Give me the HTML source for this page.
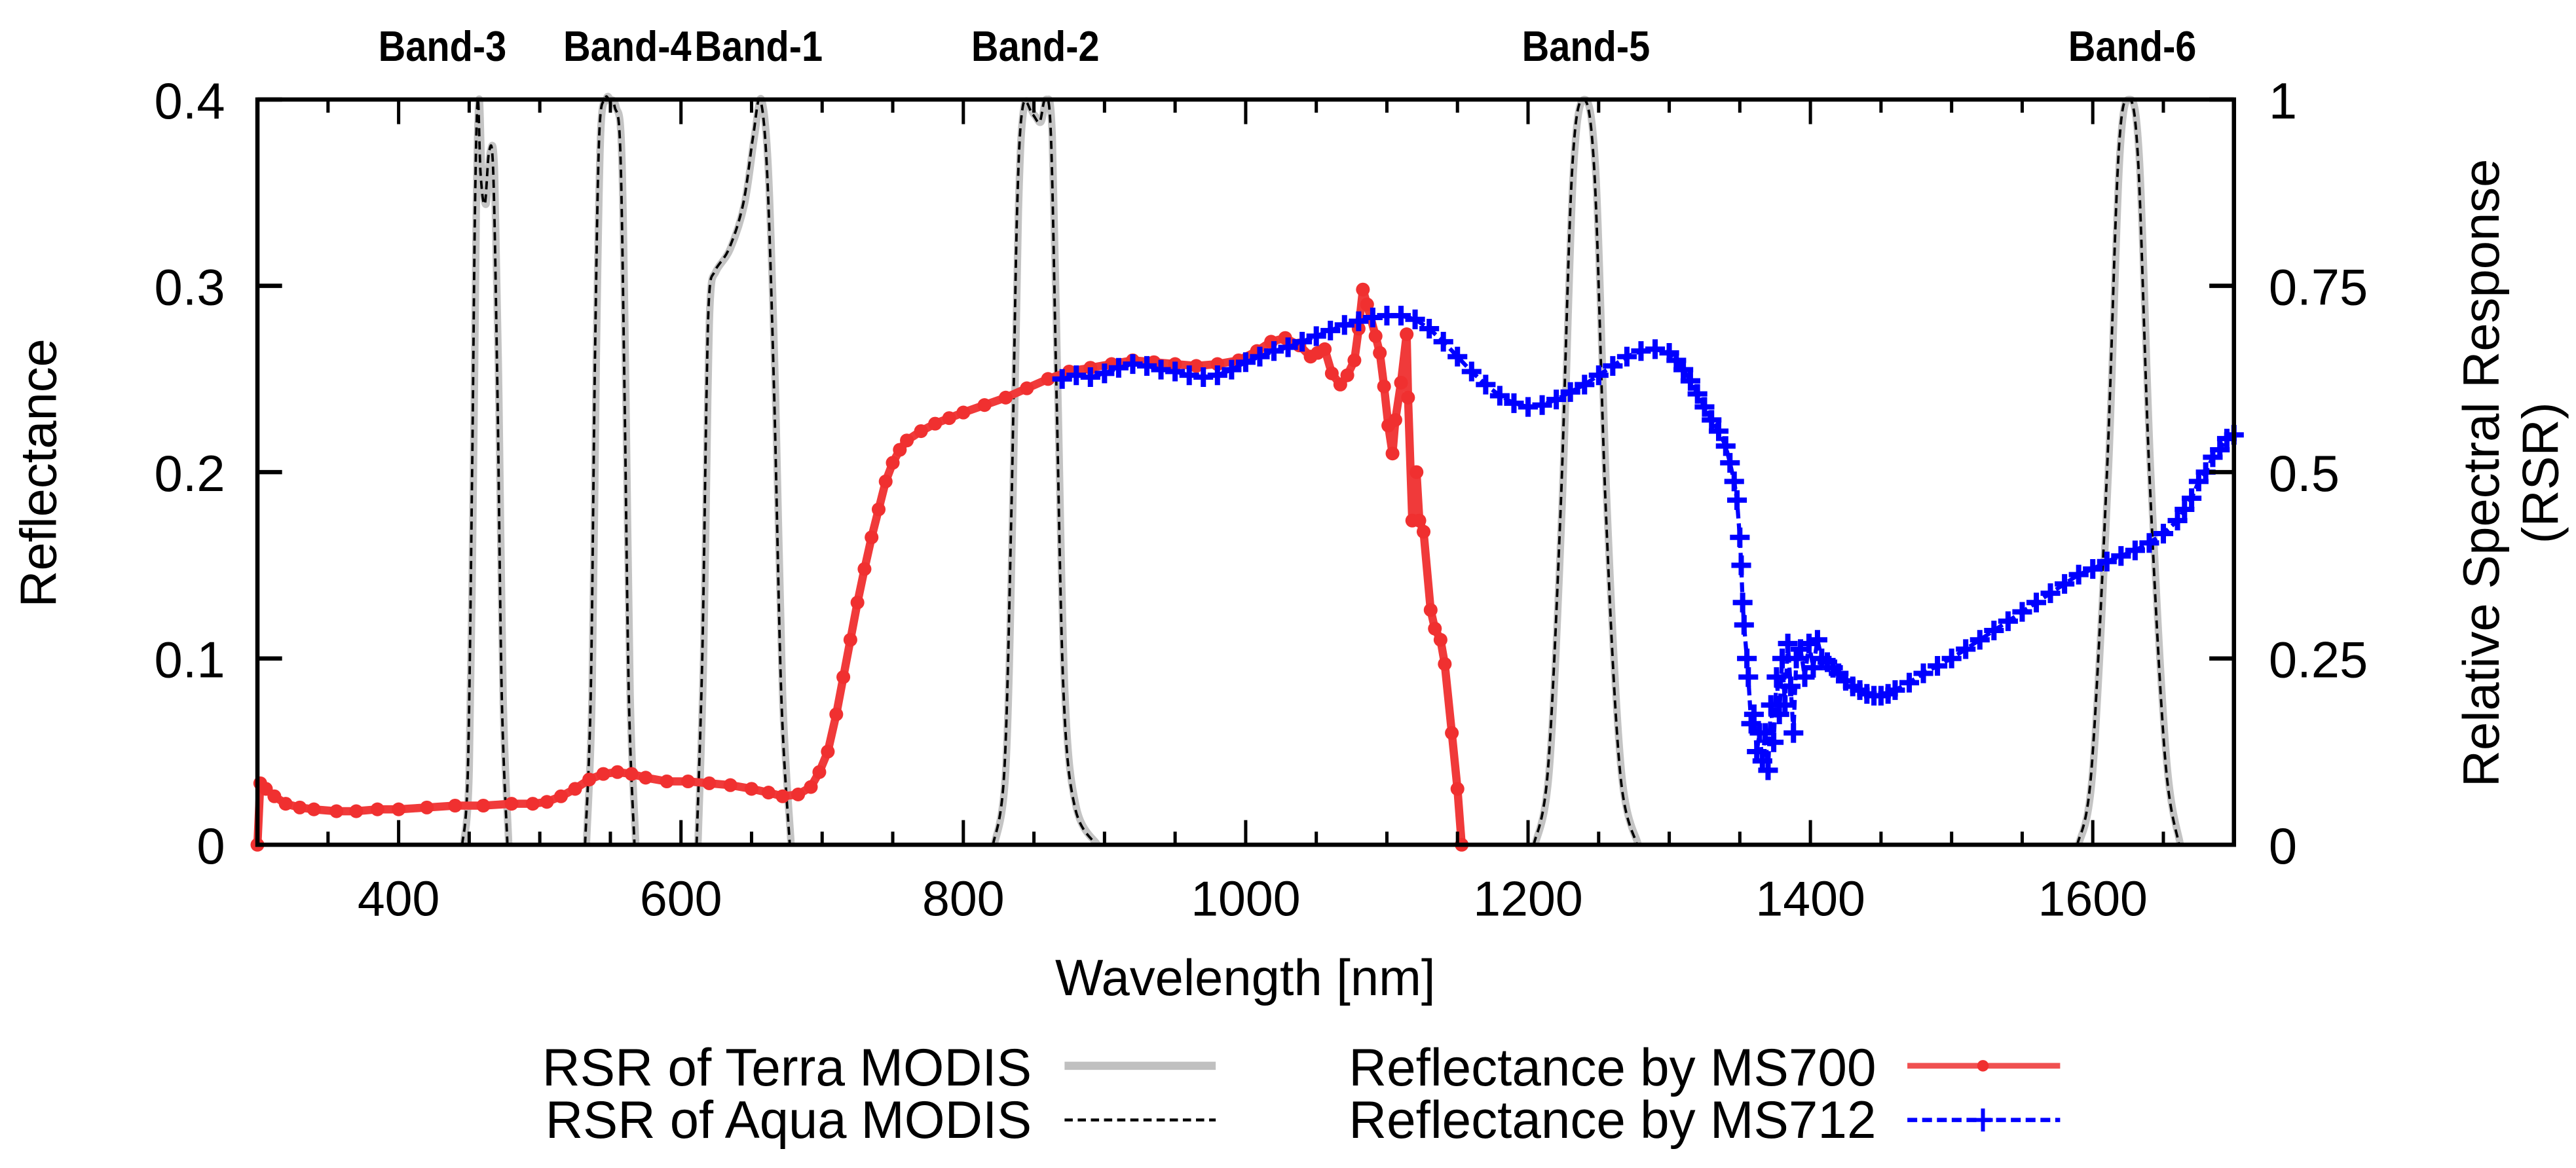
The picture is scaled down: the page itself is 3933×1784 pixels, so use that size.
<!DOCTYPE html>
<html><head><meta charset="utf-8"><style>
html,body{margin:0;padding:0;background:#fff;}
svg{display:block;}
text{font-family:"Liberation Sans",Arial,sans-serif;fill:#000;}
</style></head><body>
<svg id="chart" width="3933" height="1784" viewBox="0 0 1568 711.24" preserveAspectRatio="none" xmlns="http://www.w3.org/2000/svg">
<g id="rsr"></g>
<g id="series"></g>
<g id="axes"></g>
<g id="labels">
<text transform="translate(34,288) rotate(-90)" text-anchor="middle" font-size="31">Reflectance</text>
<text transform="translate(1521,288) rotate(-90)" text-anchor="middle" font-size="31">Relative Spectral Response</text>
<text transform="translate(1557,288) rotate(-90)" text-anchor="middle" font-size="31">(RSR)</text>
<text x="758" y="606" text-anchor="middle" font-size="31">Wavelength [nm]</text>
</g>
<g id="legend">
<text x="628" y="661" text-anchor="end" font-size="32" textLength="298" lengthAdjust="spacingAndGlyphs">RSR of Terra MODIS</text>
<line x1="648" y1="649" x2="740" y2="649" stroke="#c0c0c0" stroke-width="5"/>
<text x="628" y="693" text-anchor="end" font-size="32" textLength="296" lengthAdjust="spacingAndGlyphs">RSR of Aqua MODIS</text>
<line x1="648" y1="682" x2="740" y2="682" stroke="#000" stroke-width="1.8" stroke-dasharray="5,3"/>
<text x="1142" y="661" text-anchor="end" font-size="32" textLength="321" lengthAdjust="spacingAndGlyphs">Reflectance by MS700</text>
<line x1="1161" y1="649" x2="1254" y2="649" stroke="#f05050" stroke-width="3.5"/>
<circle cx="1207" cy="649" r="3.5" fill="#f03030"/>
<text x="1142" y="693" text-anchor="end" font-size="32" textLength="321" lengthAdjust="spacingAndGlyphs">Reflectance by MS712</text>
<line x1="1161" y1="682" x2="1254" y2="682" stroke="#0000ff" stroke-width="2.6" stroke-dasharray="6,3"/>
<path d="M1207,675V689M1201,682H1213" stroke="#0000ff" stroke-width="2.4"/>
</g>
</svg>
<script>
// ---- data ----
const reflWlMS700 = [300,302,306,312,320,330,340,356,370,385,400,420,440,460,480,495,505,515,525,535,545,555,565,575,590,605,620,635,650,662,672,683,692,698,704,710,715,720,725,730,735,740,745,750,755,760,770,780,790,800,815,830,845,860,875,890,905,920,935,950,965,980,995,1008,1018,1028,1038,1046,1051,1056,1061,1067,1072,1077,1080,1083,1086,1092,1095,1098,1101,1104,1106,1110,1114,1115,1118,1121,1123,1126,1131,1134,1138,1141,1146,1150,1153];
const reflValMS700 = [0.0,0.033,0.03,0.026,0.022,0.02,0.019,0.018,0.018,0.019,0.019,0.02,0.021,0.021,0.022,0.022,0.023,0.026,0.03,0.035,0.038,0.039,0.038,0.036,0.034,0.034,0.033,0.032,0.03,0.028,0.026,0.027,0.031,0.039,0.05,0.07,0.09,0.11,0.13,0.148,0.165,0.18,0.195,0.205,0.212,0.217,0.222,0.226,0.229,0.232,0.236,0.24,0.245,0.25,0.254,0.256,0.258,0.26,0.259,0.258,0.257,0.258,0.26,0.265,0.27,0.272,0.268,0.262,0.264,0.266,0.253,0.247,0.252,0.26,0.277,0.298,0.29,0.273,0.264,0.246,0.225,0.21,0.228,0.248,0.274,0.24,0.174,0.2,0.174,0.168,0.126,0.116,0.11,0.097,0.06,0.03,0.0];
const reflWlMS712 = [870,880,890,900,910,920,930,940,950,960,970,980,990,1000,1010,1020,1030,1040,1050,1060,1070,1080,1090,1100,1110,1120,1130,1140,1150,1160,1170,1180,1190,1200,1210,1220,1230,1240,1250,1260,1270,1280,1290,1300,1305,1310,1315,1320,1325,1330,1335,1340,1343,1346,1348,1350,1351,1352,1353,1355,1356,1358,1360,1362,1364,1366,1368,1370,1372,1374,1376,1378,1380,1382,1384,1386,1388,1390,1393,1396,1399,1402,1405,1408,1412,1416,1420,1425,1430,1435,1440,1445,1450,1455,1460,1470,1480,1490,1500,1510,1520,1530,1540,1550,1560,1570,1580,1590,1600,1610,1620,1630,1640,1650,1660,1665,1670,1675,1680,1685,1690,1695,1700];
const reflValMS712 = [0.25,0.252,0.251,0.253,0.256,0.258,0.257,0.255,0.254,0.252,0.251,0.252,0.255,0.259,0.262,0.265,0.267,0.27,0.273,0.276,0.279,0.281,0.283,0.284,0.284,0.282,0.277,0.27,0.262,0.254,0.247,0.241,0.237,0.235,0.236,0.239,0.243,0.247,0.252,0.257,0.262,0.265,0.266,0.264,0.26,0.255,0.249,0.242,0.235,0.228,0.222,0.214,0.205,0.195,0.185,0.165,0.15,0.13,0.118,0.1,0.09,0.065,0.07,0.05,0.06,0.045,0.06,0.04,0.075,0.055,0.09,0.07,0.1,0.075,0.108,0.085,0.06,0.1,0.105,0.09,0.108,0.095,0.11,0.1,0.098,0.095,0.092,0.088,0.085,0.083,0.081,0.08,0.08,0.081,0.083,0.087,0.092,0.096,0.1,0.105,0.11,0.115,0.12,0.125,0.13,0.135,0.14,0.145,0.148,0.152,0.155,0.158,0.162,0.167,0.174,0.18,0.186,0.195,0.2,0.208,0.212,0.218,0.22];

const bandNames = ["Band-3","Band-4","Band-1","Band-2","Band-5","Band-6"];
const bandLabelWl = [431,562,655,851,1241,1628];
const band3Wl = [446,450,453,455,457,459,462,465,468,471,474,478];
const band3Rsr = [0,0.1,0.5,0.85,1.0,0.9,0.86,0.93,0.9,0.6,0.2,0];
const band4Wl = [533,537,540,543,547,550,554,558,561,564,568];
const band4Rsr = [0,0.2,0.65,0.95,1.0,1.0,0.99,0.93,0.6,0.2,0];
const band1Wl = [612,616,619,621,625,635,645,652,657,662,667,672,678];
const band1Rsr = [0,0.25,0.6,0.74,0.77,0.8,0.86,0.95,1.0,0.9,0.6,0.2,0];
const band2Wl = [822,830,835,839,843,850,855,859,863,867,872,880,895];
const band2Rsr = [0,0.1,0.45,0.85,0.99,0.98,0.97,1.0,0.95,0.6,0.2,0.05,0];
const band5Wl = [1205,1215,1224,1232,1240,1248,1256,1266,1278];
const band5Rsr = [0,0.1,0.45,0.9,1.0,0.9,0.45,0.1,0];
const band6Wl = [1590,1600,1611,1619,1626,1633,1641,1652,1662];
const band6Rsr = [0,0.1,0.5,0.92,1.0,0.92,0.5,0.12,0];

const xTickVals = [400,600,800,1000,1200,1400,1600];
const yTickVals = [0,0.1,0.2,0.3,0.4];
const yTickLabels = ["0","0.1","0.2","0.3","0.4"];
const y2TickVals = [0,0.25,0.5,0.75,1];
const y2TickLabels = ["0","0.25","0.5","0.75","1"];

// ---- scales ----
const PL=156.7, PR=1359.8, PT=60.6, PB=514.4;
const X = nm => PL + (nm-300)/1400*(PR-PL);
const Y = v => PB - v/0.4*(PB-PT);
const Y2 = r => PB - r*(PB-PT);
const NS="http://www.w3.org/2000/svg";
function mk(tag, parent){ const e=document.createElementNS(NS,tag); parent.appendChild(e); return e; }

function smoothPath(pts){
  let d="M"+pts[0][0].toFixed(2)+","+pts[0][1].toFixed(2);
  for(let i=0;i<pts.length-1;i++){
    const p0=pts[Math.max(0,i-1)],p1=pts[i],p2=pts[i+1],p3=pts[Math.min(pts.length-1,i+2)];
    const c1=[p1[0]+(p2[0]-p0[0])/6,p1[1]+(p2[1]-p0[1])/6];
    const c2=[p2[0]-(p3[0]-p1[0])/6,p2[1]-(p3[1]-p1[1])/6];
    d+=" C"+c1[0].toFixed(2)+","+c1[1].toFixed(2)+" "+c2[0].toFixed(2)+","+c2[1].toFixed(2)+" "+p2[0].toFixed(2)+","+p2[1].toFixed(2);
  }
  return d;
}

// ---- RSR curves ----
const rsrG=document.getElementById("rsr");
const bandsWl=[band3Wl,band4Wl,band1Wl,band2Wl,band5Wl,band6Wl];
const bandsRsr=[band3Rsr,band4Rsr,band1Rsr,band2Rsr,band5Rsr,band6Rsr];
for(let b=0;b<bandsWl.length;b++){
  const pts=bandsWl[b].map((w,i)=>[X(w),Y2(bandsRsr[b][i])]);
  const t=mk("path",rsrG);
  
  
  t.setAttribute("d",smoothPath(pts));
  t.setAttribute("fill","none");t.setAttribute("stroke","#c4c4c4");t.setAttribute("stroke-width","4.5");
  const a=mk("path",rsrG);
  
  
  a.setAttribute("d",smoothPath(pts.map(p=>[p[0]-0.8,p[1]])));
  a.setAttribute("fill","none");a.setAttribute("stroke","#000");a.setAttribute("stroke-width","1.5");a.setAttribute("stroke-dasharray","5,3");
}

// ---- reflectance series ----
const sG=document.getElementById("series");
const redLine=mk("polyline",sG);


redLine.setAttribute("points",reflWlMS700.map((w,i)=>X(w).toFixed(2)+","+Y(reflValMS700[i]).toFixed(2)).join(" "));
redLine.setAttribute("fill","none");redLine.setAttribute("stroke","#f03a3a");redLine.setAttribute("stroke-width","5");redLine.setAttribute("stroke-linejoin","round");
for(let i=0;i<reflWlMS700.length;i++){
  const c=mk("circle",sG);
  
  
  c.setAttribute("cx",X(reflWlMS700[i]).toFixed(2));c.setAttribute("cy",Y(reflValMS700[i]).toFixed(2));
  c.setAttribute("r","4.2");c.setAttribute("fill","#f03030");
}
const blueLine=mk("polyline",sG);


blueLine.setAttribute("points",reflWlMS712.map((w,i)=>X(w).toFixed(2)+","+Y(reflValMS712[i]).toFixed(2)).join(" "));
blueLine.setAttribute("fill","none");blueLine.setAttribute("stroke","#0000ff");blueLine.setAttribute("stroke-width","2.5");blueLine.setAttribute("stroke-dasharray","6,3");
for(let i=0;i<reflWlMS712.length;i++){
  const x=X(reflWlMS712[i]),y=Y(reflValMS712[i]);
  const p=mk("path",sG);
  
  
  p.setAttribute("d","M"+(x-6).toFixed(2)+","+y.toFixed(2)+"H"+(x+6).toFixed(2)+"M"+x.toFixed(2)+","+(y-6).toFixed(2)+"V"+(y+6).toFixed(2));
  p.setAttribute("stroke","#0000ff");p.setAttribute("stroke-width","3.2");
}

// ---- axes ----
const aG=document.getElementById("axes");
const frame=mk("rect",aG);


frame.setAttribute("x",PL);frame.setAttribute("y",PT);frame.setAttribute("width",PR-PL);frame.setAttribute("height",PB-PT);
frame.setAttribute("fill","none");frame.setAttribute("stroke","#000");frame.setAttribute("stroke-width","2.6");
for(let nm=350;nm<1700;nm+=50){
  const major=(nm%200===0);
  const len=major?15:8;
  const tk=mk("path",aG);
  
  
  tk.setAttribute("d","M"+X(nm).toFixed(2)+","+PB+"v"+(-len)+"M"+X(nm).toFixed(2)+","+PT+"v"+len);
  tk.setAttribute("stroke","#000");tk.setAttribute("stroke-width","2");
}
for(let i=0;i<xTickVals.length;i++){
  const t=mk("text",aG);
  
  
  t.setAttribute("x",X(xTickVals[i]).toFixed(2));t.setAttribute("y","557.5");
  t.setAttribute("text-anchor","middle");t.setAttribute("font-size","30");
  t.textContent=String(xTickVals[i]);
}
for(let i=0;i<yTickVals.length;i++){
  const y=Y(yTickVals[i]);
  const tk=mk("path",aG);
  
  
  tk.setAttribute("d","M"+PL+","+y.toFixed(2)+"h15");
  tk.setAttribute("stroke","#000");tk.setAttribute("stroke-width","2.6");
  const t=mk("text",aG);
  
  
  t.setAttribute("x","137");t.setAttribute("y",(y+11.5).toFixed(2));
  t.setAttribute("text-anchor","end");t.setAttribute("font-size","31");
  t.textContent=yTickLabels[i];
}
for(let i=0;i<y2TickVals.length;i++){
  const y=Y2(y2TickVals[i]);
  const tk=mk("path",aG);
  
  
  tk.setAttribute("d","M"+PR+","+y.toFixed(2)+"h-15");
  tk.setAttribute("stroke","#000");tk.setAttribute("stroke-width","2.6");
  const t=mk("text",aG);
  
  
  t.setAttribute("x","1381");t.setAttribute("y",(y+11.5).toFixed(2));
  t.setAttribute("text-anchor","start");t.setAttribute("font-size","31");
  t.textContent=y2TickLabels[i];
}
for(let b=0;b<bandNames.length;b++){
  const t=mk("text",aG);
  
  
  t.setAttribute("x",X(bandLabelWl[b]).toFixed(2));t.setAttribute("y","37");
  t.setAttribute("text-anchor","middle");t.setAttribute("font-size","26");t.setAttribute("font-weight","bold");
  t.setAttribute("textLength","78");t.setAttribute("lengthAdjust","spacingAndGlyphs");
  t.textContent=bandNames[b];
}
</script>
</body></html>
